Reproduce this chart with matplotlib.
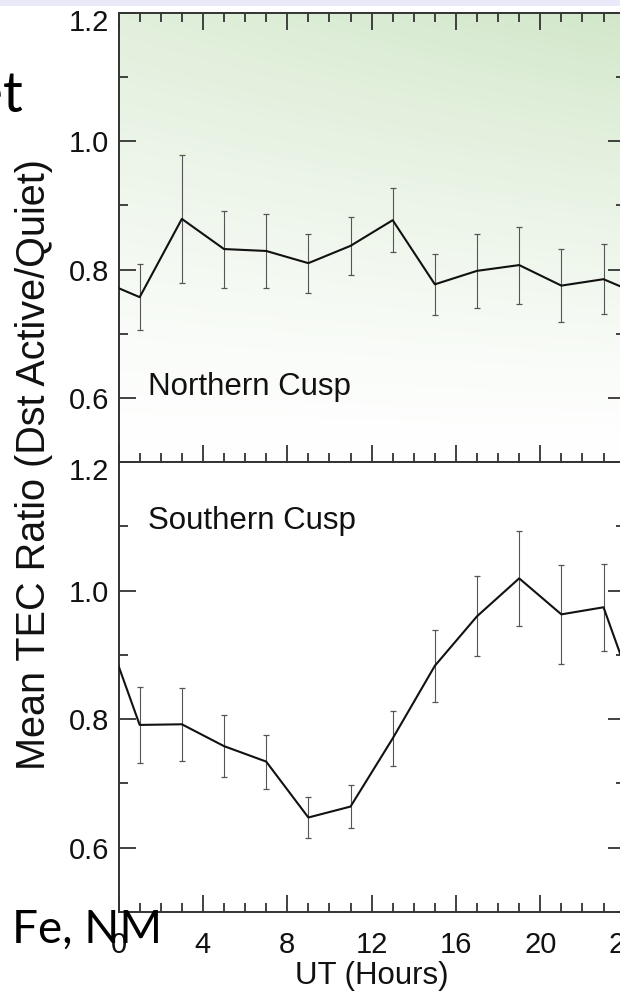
"""
Mean TEC ratio (Dst active / quiet) against UT for the two cusps
"""

import numpy as np
import matplotlib
matplotlib.use("Agg")
import matplotlib.pyplot as plt
from matplotlib.patches import Rectangle
from matplotlib.ticker import MultipleLocator
from matplotlib.transforms import ScaledTranslation

# UT hour bins (2-hour bins, centred on odd hours)
ut_hours = [1, 3, 5, 7, 9, 11, 13, 15, 17, 19, 21, 23]

north_ratio = [0.757, 0.879, 0.832, 0.829, 0.810, 0.837,
               0.877, 0.777, 0.798, 0.807, 0.775, 0.785]
north_err = [0.051, 0.100, 0.060, 0.058, 0.046, 0.045,
             0.050, 0.048, 0.058, 0.060, 0.057, 0.055]

south_ratio = [0.791, 0.792, 0.758, 0.734, 0.647, 0.664,
               0.770, 0.883, 0.960, 1.019, 0.963, 0.974]
south_err = [0.059, 0.057, 0.048, 0.042, 0.032, 0.034,
             0.043, 0.056, 0.062, 0.074, 0.077, 0.068]

panel_names = ["Northern Cusp", "Southern Cusp"]
x_ticks = [0, 4, 8, 12, 16, 20, 24]
y_ticks = [0.6, 0.8, 1.0, 1.2]

plt.rcParams["font.family"] = ["Liberation Sans", "DejaVu Sans"]

W, H = 620, 994
fig = plt.figure(figsize=(W / 100, H / 100), dpi=100)

# slide strip at the very top
fig.patches.append(Rectangle((0, 1 - 6 / H), 1, 6 / H, transform=fig.transFigure,
                             facecolor="#e9e9f8", edgecolor="none", zorder=0))

left = 118.6 / W
width = 506 / W
ax_top = fig.add_axes([left, 1 - 462 / H, width, 449 / H])
ax_bot = fig.add_axes([left, 1 - 912 / H, width, 450 / H])

EDGE = "#333333"
TEXT = "#111111"


def wrap(x, y):
    """add periodic neighbours so the line runs to the plot edges"""
    x = np.asarray(x, float)
    y = np.asarray(y, float)
    xw = np.concatenate([[x[-1] - 24], x, [x[0] + 24]])
    yw = np.concatenate([[y[-1]], y, [y[0]]])
    return xw, yw


def style_axis(ax, show_xlabels, top_ticks):
    ax.set_xlim(0, 24)
    ax.set_ylim(0.5, 1.2)
    ax.xaxis.set_major_locator(MultipleLocator(4))
    ax.xaxis.set_minor_locator(MultipleLocator(1))
    ax.set_yticks(y_ticks)
    ax.yaxis.set_minor_locator(MultipleLocator(0.1))
    ax.tick_params(which="both", direction="in", color=EDGE, width=1.3,
                   left=True, right=True, bottom=True, top=top_ticks,
                   labelsize=21, labelcolor=TEXT)
    ax.tick_params(which="major", length=12.5)
    ax.tick_params(which="minor", length=6.5)
    ax.tick_params(axis="x", pad=14)
    ax.tick_params(axis="y", pad=7)
    ax.set_yticklabels([f"{v:.1f}" for v in y_ticks])
    if show_xlabels:
        ax.set_xticks(x_ticks)
        ax.set_xticklabels([str(t) for t in x_ticks])
    else:
        ax.set_xticklabels([])
    for sp in ax.spines.values():
        sp.set_color(EDGE)
        sp.set_linewidth(1.4)
    # the 1.2 label sits a little below its tick
    lab = ax.get_yticklabels()[-1]
    lab.set_transform(lab.get_transform()
                      + ScaledTranslation(0, -7 / 100, fig.dpi_scale_trans))


# green slide gradient behind the top panel
u, w = np.meshgrid(np.linspace(0, 1, 200), np.linspace(0, 1, 200))
a = np.clip((0.55 + 0.27 * u) * w ** 1.3, 0, 1)
green = np.array([200, 226, 190]) / 255.0
grad = 1 - a[..., None] * (1 - green)
ax_top.imshow(grad, extent=[0, 24, 0.5, 1.2], origin="lower", aspect="auto",
              interpolation="bilinear", zorder=0)

for ax, ratio, err, name, label_y in [
        (ax_top, north_ratio, north_err, panel_names[0], 0.604),
        (ax_bot, south_ratio, south_err, panel_names[1], 1.096)]:
    xw, yw = wrap(ut_hours, ratio)
    ax.plot(xw, yw, color="#111111", linewidth=1.5, zorder=3)
    ax.errorbar(ut_hours, ratio, yerr=err, fmt="none", ecolor="#555555",
                elinewidth=0.8, capsize=2.0, capthick=0.9, zorder=2)
    ax.text(1.4, label_y, name, fontsize=22.5, color=TEXT,
            va="baseline", ha="left")

style_axis(ax_top, show_xlabels=False, top_ticks=True)
style_axis(ax_bot, show_xlabels=True, top_ticks=False)

ax_bot.set_xlabel("UT (Hours)", fontsize=22.5, color=TEXT, labelpad=1)

fig.text(34 / W, 1 - 464 / H, "Mean TEC Ratio (Dst Active/Quiet)", rotation=90,
         fontsize=28.5, color=TEXT, ha="center", va="center")

# slide text overlapping the figure
fig.text(23 / W, 1 - 112 / H, "Quiet", fontsize=40, family=["Lato", "DejaVu Sans"],
         ha="right", va="baseline", color="black")
fig.text(12 / W, 1 - 943 / H, "Fe, NM", fontsize=33, family=["Lato", "DejaVu Sans"],
         ha="left", va="baseline", color="black", zorder=10)

fig.savefig("out.png", dpi=100)
